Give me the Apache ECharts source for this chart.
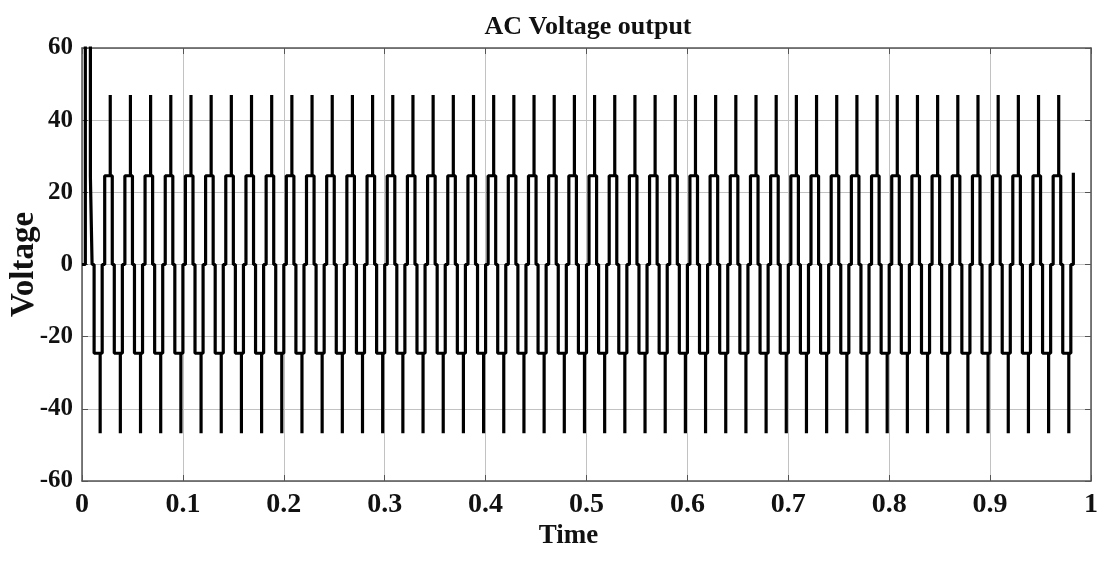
<!DOCTYPE html>
<html>
<head>
<meta charset="utf-8">
<title>AC Voltage output</title>
<script src="https://cdn.jsdelivr.net/npm/echarts@6.0.0/dist/echarts.min.js"></script>
<style>
  html, body { margin: 0; padding: 0; background: #ffffff; }
  #chart { width: 1101px; height: 564px; }
</style>
</head>
<body>
<div id="chart"></div>
<script>
// Axis tick labels
const xTickLabels = ['0', '0.1', '0.2', '0.3', '0.4', '0.5', '0.6', '0.7', '0.8', '0.9', '1'];
const yTickLabels = ['-60', '-40', '-20', '0', '20', '40', '60'];

// One inverter period: switching instants measured from the rising edge (s) and output levels (V)
const stepOffsets = [0, 0, 0.0055, 0.0055, 0.0055, 0.0075, 0.0075, 0.0095, 0.0095, 0.0155, 0.0155, 0.0155, 0.0175, 0.0175];
const stepLevels  = [0, 24.6, 24.6, 47.0, 24.6, 24.6, 0, 0, -24.6, -24.6, -46.8, -24.6, -24.6, 0];

// Start-up period with the overshoot
const startTimes  = [0, 0.0033, 0.0033, 0.0083, 0.0083, 0.0100, 0.0100, 0.0120, 0.0120, 0.0180, 0.0180, 0.0180, 0.0200, 0.0200];
const startLevels = [0, 0, 80, 80, 24.6, 24.6, 0, 0, -24.6, -24.6, -46.8, -24.6, -24.6, 0];

// Rising edge of each following period (s)
const riseTimes = [
  0.0225, 0.0425, 0.0625, 0.0825, 0.1025, 0.1225, 0.1425, 0.1625, 0.1825, 0.2025,
  0.2225, 0.2425, 0.2625, 0.2825, 0.3025, 0.3225, 0.3425, 0.3625, 0.3825, 0.4025,
  0.4225, 0.4425, 0.4625, 0.4825, 0.5025, 0.5225, 0.5425, 0.5625, 0.5825, 0.6025,
  0.6225, 0.6425, 0.6625, 0.6825, 0.7025, 0.7225, 0.7425, 0.7625, 0.7825, 0.8025,
  0.8225, 0.8425, 0.8625, 0.8825, 0.9025, 0.9225, 0.9425, 0.9625
];

// Last recorded edge
const endTimes  = [0.9825, 0.9825];
const endLevels = [0, 25.4];

// Assemble the waveform
const wave = [];
startTimes.forEach((t, i) => wave.push([t, startLevels[i]]));
riseTimes.forEach(t0 => {
  stepOffsets.forEach((dt, i) => wave.push([+(t0 + dt).toFixed(5), stepLevels[i]]));
});
endTimes.forEach((t, i) => wave.push([t, endLevels[i]]));

const serif = 'Liberation Serif, Times New Roman, serif';
const frameColor = '#555555';
const gridColor = '#c2c2c2';

const chart = echarts.init(document.getElementById('chart'), null, { renderer: 'canvas' });
chart.setOption({
  animation: false,
  backgroundColor: '#ffffff',
  title: {
    text: 'AC Voltage output',
    left: 583,
    top: 9,
    textAlign: 'center',
    textStyle: { fontFamily: serif, fontWeight: 'bold', fontSize: 26, color: '#111' }
  },
  grid: { left: 82, right: 10, top: 48, bottom: 83, containLabel: false, outerBoundsMode: 'none' },
  xAxis: [
    {
      type: 'value',
      position: 'bottom',
      min: 0, max: 1, interval: 0.1,
      name: 'Time',
      nameLocation: 'middle',
      nameGap: 42,
      nameMoveOverlap: false,
      nameTextStyle: { fontFamily: serif, fontWeight: 'bold', fontSize: 27, color: '#111', padding: [0, 36, 0, 0] },
      axisLine: { show: true, onZero: false, lineStyle: { color: frameColor, width: 1.5 } },
      axisTick: { show: true, inside: true, length: 6, lineStyle: { color: frameColor } },
      axisLabel: {
        margin: 10,
        fontFamily: serif, fontWeight: 'bold', fontSize: 28, color: '#111',
        formatter: v => xTickLabels[Math.round(v * 10)]
      },
      splitLine: { show: true, lineStyle: { color: gridColor, width: 1 } }
    },
    {
      type: 'value',
      position: 'top',
      min: 0, max: 1, interval: 0.1,
      axisLine: { show: true, onZero: false, lineStyle: { color: frameColor, width: 1.5 } },
      axisTick: { show: true, inside: true, length: 6, lineStyle: { color: frameColor } },
      axisLabel: { show: false },
      splitLine: { show: false }
    }
  ],
  yAxis: [
    {
      type: 'value',
      position: 'left',
      min: -60, max: 60, interval: 20,
      name: 'Voltage',
      nameLocation: 'middle',
      nameGap: 41,
      nameMoveOverlap: false,
      nameTextStyle: { fontFamily: serif, fontWeight: 'bold', fontSize: 33, color: '#111' },
      axisLine: { show: true, onZero: false, lineStyle: { color: frameColor, width: 1.5 } },
      axisTick: { show: true, inside: true, length: 6, lineStyle: { color: frameColor } },
      axisLabel: {
        margin: 9,
        fontFamily: serif, fontWeight: 'bold', fontSize: 25, color: '#111',
        formatter: v => yTickLabels[Math.round((v + 60) / 20)]
      },
      splitLine: { show: true, lineStyle: { color: gridColor, width: 1 } }
    },
    {
      type: 'value',
      position: 'right',
      min: -60, max: 60, interval: 20,
      axisLine: { show: true, onZero: false, lineStyle: { color: frameColor, width: 1.5 } },
      axisTick: { show: true, inside: true, length: 6, lineStyle: { color: frameColor } },
      axisLabel: { show: false },
      splitLine: { show: false }
    }
  ],
  series: [
    {
      type: 'line',
      xAxisIndex: 0,
      yAxisIndex: 0,
      data: wave,
      showSymbol: false,
      symbol: 'none',
      clip: true,
      lineStyle: { color: '#000000', width: 3.2, join: 'bevel', cap: 'butt' }
    }
  ]
});
</script>
</body>
</html>
